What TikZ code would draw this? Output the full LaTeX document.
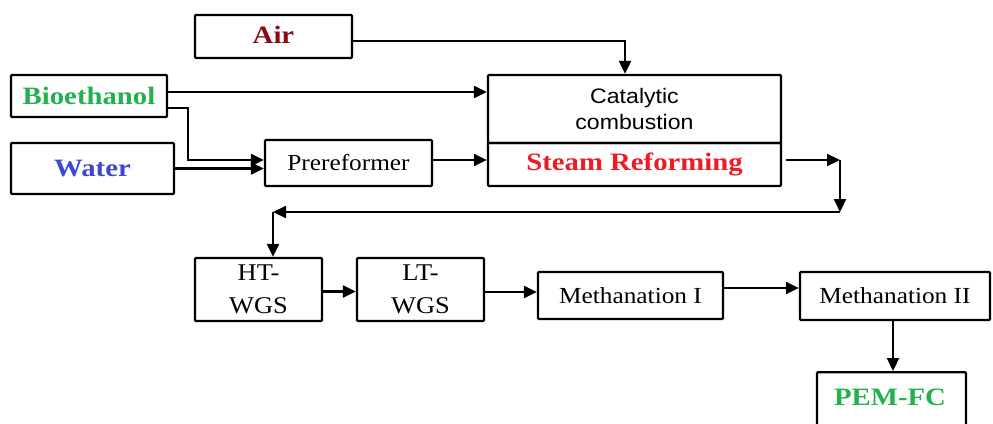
\documentclass[tikz,border=0pt]{standalone}
\usepackage{fontspec}
\usepackage{graphicx}
\setmainfont{Liberation Serif}
\setsansfont{Liberation Sans}
\usetikzlibrary{arrows.meta,calc}
\definecolor{airred}{RGB}{140,10,20}
\definecolor{bgreen}{RGB}{34,177,76}
\definecolor{wblue}{RGB}{63,72,204}
\definecolor{sred}{RGB}{237,28,36}
\newcommand\wxb[1]{\scalebox{1.15}[1]{#1}}
\newcommand\wxr[1]{\scalebox{1.1}[1]{#1}}
\tikzset{
  blk/.style={draw, line width=2.3pt, inner sep=0pt, rounded corners=1pt, align=center},
  arr/.style={-{Triangle[length=13pt,width=12pt]}, line width=2.2pt},
  bftxt/.style={font=\fontsize{25}{30}\selectfont\bfseries},
  rmtxt/.style={font=\fontsize{23}{33}\selectfont},
  sftxt/.style={font=\fontsize{21}{26}\selectfont\sffamily},
}
\begin{document}
\begin{tikzpicture}[x=1pt,y=-1pt]
\useasboundingbox (0,0) rectangle (993,423);
\clip (0,0) rectangle (993,423);
% nodes
\node[blk, bftxt, text=airred, minimum width=157pt, minimum height=43pt] (air) at (273.5,36.5) {\raisebox{3pt}{\wxb{Air}}};
\node[blk, bftxt, text=bgreen, minimum width=156pt, minimum height=42pt] (bio) at (89,96) {\wxb{Bioethanol}};
\node[blk, bftxt, text=wblue, minimum width=163pt, minimum height=51pt] (water) at (92.5,168.5) {\wxb{Water}};
\node[blk, rmtxt, minimum width=167pt, minimum height=46pt] (pre) at (348.5,163) {\wxr{Prereformer}};
\node[blk, sftxt, minimum width=293pt, minimum height=68pt] (cc) at (634.5,109) {\wxr{Catalytic}\\\wxr{combustion}};
\node[blk, bftxt, text=sred, minimum width=293pt, minimum height=43pt] (sr) at (634.5,164.5) {\wxb{Steam Reforming}};
\node[blk, rmtxt, font=\fontsize{24}{33}\selectfont, minimum width=127pt, minimum height=63pt] (ht) at (258.5,289.5) {\wxr{HT-}\\\wxr{WGS}};
\node[blk, rmtxt, font=\fontsize{24}{33}\selectfont, minimum width=127pt, minimum height=63pt] (lt) at (420.5,289.5) {\wxr{LT-}\\\wxr{WGS}};
\node[blk, rmtxt, minimum width=185pt, minimum height=47pt] (m1) at (630.5,295.5) {\wxr{Methanation I}};
\node[blk, rmtxt, minimum width=190pt, minimum height=48pt] (m2) at (895,296) {\wxr{Methanation II}};
\node[blk, bftxt, text=bgreen, minimum width=149pt, minimum height=58pt, anchor=north] (pem) at (891.5,371) {};
\node[bftxt, text=bgreen] (pemtxt) at (890,397) {\wxb{PEM-FC}};
% connectors
\draw[arr] ([yshift=-4.5pt]air.east) -| ([xshift=-9.5pt]cc.north);
\draw[arr] ([yshift=4pt]bio.east) -- ([yshift=4pt]bio.east -| cc.west);
\coordinate (b1) at (188,108);
\draw[arr] ([yshift=-12pt]bio.east) -| (b1) |- ([yshift=3pt]pre.west);
\draw[arr] (water.east) -- (water.east -| pre.west);
\draw[arr] ([yshift=3pt]pre.east) -- ([yshift=3pt]pre.east -| sr.west);
\coordinate (c1) at ([xshift=4pt,yshift=4.5pt]sr.east);
\coordinate (c2) at (840,160);
\coordinate (c3) at (840,212);
\coordinate (c4) at (273,212);
\draw[arr] (c1) -- (c2);
\draw[arr] (c2) -- (c3);
\draw[arr] (c3) -- (c4);
\draw[arr] (c4) -- (c4 |- ht.north);
\draw[arr] ([yshift=-2pt]ht.east) -- ([yshift=-2pt]ht.east -| lt.west);
\draw[arr] ([yshift=-2.5pt]lt.east) -- ([yshift=-2.5pt]lt.east -| m1.west);
\draw[arr] ([yshift=7.5pt]m1.east) -- ([yshift=7.5pt]m1.east -| m2.west);
\draw[arr] ([xshift=-2pt]m2.south) -- ([xshift=-2pt]m2.south |- pem.north);
\end{tikzpicture}
\end{document}
